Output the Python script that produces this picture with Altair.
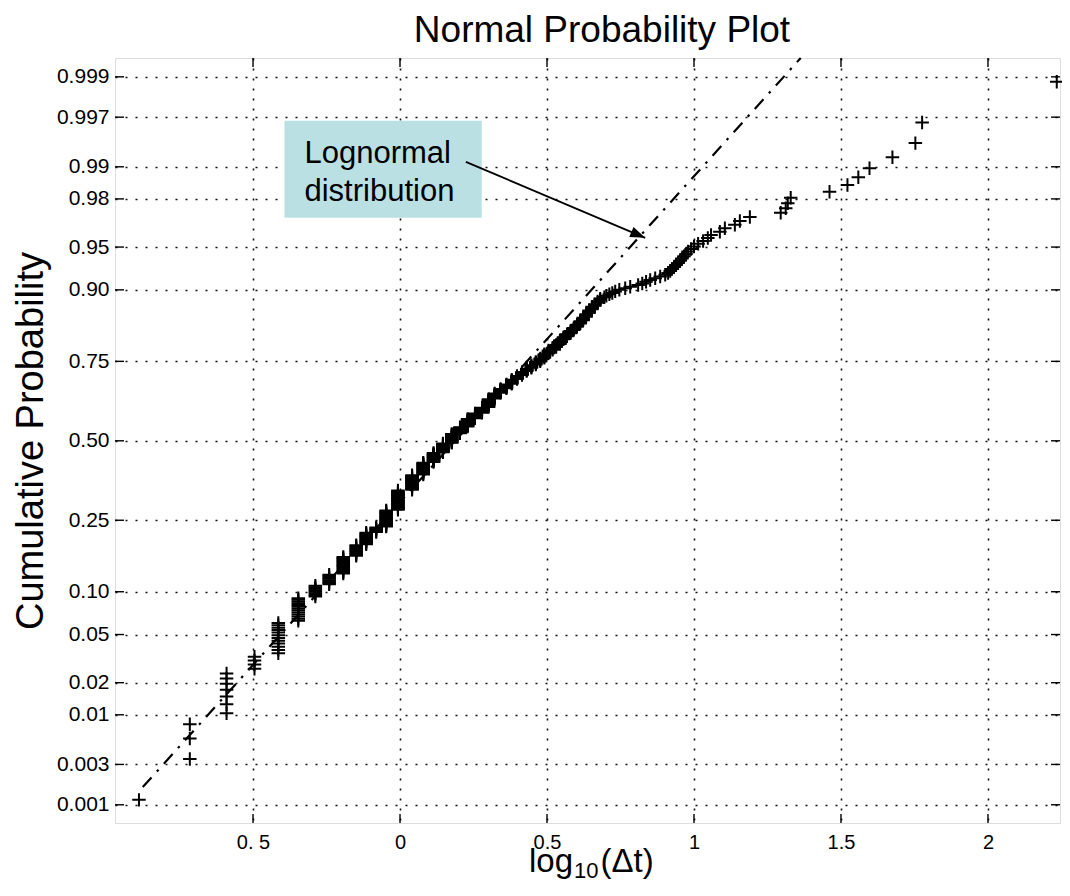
import math
from statistics import NormalDist

import altair as alt
import pandas as pd

ND = NormalDist()

# ---------------- data ----------------
# distinct sorted log10(Δt) values and how many observations share each value
X_VALUES = [-0.888, -0.715, -0.590, -0.495, -0.414, -0.346, -0.288, -0.241, -0.193, -0.149,
            -0.115, -0.081, -0.047, -0.007,
            0.041, 0.079, 0.114, 0.146, 0.176, 0.204, 0.230, 0.255, 0.279, 0.301,
            0.322, 0.342, 0.362, 0.380, 0.398, 0.415, 0.431, 0.447, 0.462, 0.477,
            0.491, 0.505, 0.519, 0.531, 0.544, 0.556, 0.568, 0.580, 0.591, 0.602,
            0.613, 0.623, 0.633, 0.643, 0.653, 0.663, 0.672, 0.681,
            0.695, 0.702, 0.712, 0.722, 0.732, 0.746, 0.766, 0.783, 0.810, 0.824,
            0.837, 0.851, 0.868, 0.885, 0.902, 0.912, 0.919, 0.925, 0.932, 0.939,
            0.946, 0.953, 0.959, 0.966, 0.973, 0.980, 0.990, 1.000, 1.014, 1.031,
            1.047, 1.058, 1.088, 1.105, 1.139, 1.156, 1.190, 1.295, 1.312, 1.319,
            1.329, 1.461, 1.522, 1.559, 1.597, 1.675, 1.753, 1.776, 2.234]
COUNTS = [1, 3, 7, 4, 12, 13, 8, 8, 15, 11,
          13, 6, 20, 26,
          21, 18, 14, 14, 14, 10, 12, 8, 8, 12,
          8, 6, 6, 6, 5, 5, 4, 4, 4, 4,
          5, 4, 3, 3, 5, 3, 3, 3, 3, 3,
          3, 3, 3, 3, 3, 2, 2, 2,
          1, 1, 1, 1, 1, 1, 1, 1, 1, 1,
          1, 1, 1, 1, 1, 1, 1, 1, 1, 1,
          1, 1, 1, 1, 1, 1, 1, 1, 1, 1,
          1, 1, 1, 1, 1, 1, 1, 1, 1, 1,
          1, 1, 1, 1, 1, 1, 1, 1, 1]

# dash-dot reference line (lognormal fit) end points: log10(Δt), cumulative probability
LINE_X = [-0.875, 1.363]
LINE_P = [0.00164, 0.999423]

# axis ticks
P_TICKS = [0.001, 0.003, 0.01, 0.02, 0.05, 0.10, 0.25, 0.50, 0.75, 0.90, 0.95, 0.98, 0.99, 0.997, 0.999]
P_LABELS = ["0.001", "0.003", "0.01", "0.02", "0.05", "0.10", "0.25", "0.50", "0.75", "0.90",
            "0.95", "0.98", "0.99", "0.997", "0.999"]
X_TICKS = [-0.5, 0, 0.5, 1, 1.5, 2]
X_LABELS = ["0. 5", "0", "0.5", "1", "1.5", "2"]

# texts
TITLE = "Normal Probability Plot"
Y_TITLE = "Cumulative Probability"
NOTE_LINES = ["Lognormal", "distribution"]

# ---------------- build tables ----------------
assert len(X_VALUES) == len(COUNTS)
n = sum(COUNTS)
rows = []
rank = 0
for xv, c in zip(X_VALUES, COUNTS):
    for _ in range(c):
        rank += 1
        p = (rank - 0.5) / n
        rows.append({"x": xv, "p": p, "z": ND.inv_cdf(p)})
df = pd.DataFrame(rows)

line_df = pd.DataFrame({"x": LINE_X, "z": [ND.inv_cdf(p) for p in LINE_P]})
Z_TICKS = [ND.inv_cdf(p) for p in P_TICKS]
xt_df = pd.DataFrame({"t": X_TICKS})
yt_df = pd.DataFrame({"z": Z_TICKS})

W, H = 945, 765
XDOM = [-0.9695, 2.245]
YDOM = [-3.245, 3.25]
xs = alt.Scale(domain=XDOM, nice=False, zero=False)
ys = alt.Scale(domain=YDOM, nice=False, zero=False)

FONT = "Liberation Sans"


def label_expr(vals, labs):
    expr = "''"
    for v, l in reversed(list(zip(vals, labs))):
        expr = f"abs(datum.value - ({v:.6f})) < 0.0001 ? '{l}' : ({expr})"
    return expr


grid_kw = dict(grid=True, gridDash=[2, 8], gridColor="#111111", gridWidth=1.6,
               ticks=False, tickSize=0, domain=False, labelFont=FONT, labelColor="black",
               labelOverlap=False, labelFlush=False)

x_axis = alt.Axis(values=X_TICKS, labelExpr=label_expr(X_TICKS, X_LABELS), title=None,
                  labelFontSize=20, labelPadding=9, labelAngle=0, **grid_kw)
y_axis = alt.Axis(values=Z_TICKS, labelExpr=label_expr(Z_TICKS, P_LABELS),
                  title=Y_TITLE, titleFont=FONT, titleFontSize=38,
                  titleFontWeight="normal", titleColor="black", titlePadding=6,
                  labelFontSize=21, labelPadding=6, **grid_kw)


def X(field):
    return alt.X(field, scale=xs, axis=x_axis)


def Y(field):
    return alt.Y(field, scale=ys, axis=y_axis)


points = alt.Chart(df).mark_point(
    shape="M-1,0L1,0M0,-1L0,1", size=182, filled=False, stroke="black",
    strokeWidth=2.0, opacity=1
).encode(x=X("x:Q"), y=Y("z:Q"))

ref_line = alt.Chart(line_df).mark_line(
    color="black", strokeWidth=2.2, strokeDash=[13, 8, 2.5, 8]
).encode(x=X("x:Q"), y=Y("z:Q"))

# annotation box & arrow (positions in data units)
BOX = {"x1": -0.393, "x2": 0.278, "z1": ND.inv_cdf(0.99670), "z2": ND.inv_cdf(0.97083)}
box = alt.Chart(pd.DataFrame([BOX])).mark_rect(color="#bbe0e3").encode(
    x=X("x1:Q"), x2="x2:Q", y=Y("z1:Q"), y2="z2:Q",
)
note_df = pd.DataFrame({"x": [-0.325, -0.325],
                        "z": [ND.inv_cdf(0.99086), ND.inv_cdf(0.97919)],
                        "t": NOTE_LINES})
note = alt.Chart(note_df).mark_text(
    align="left", baseline="alphabetic", font=FONT, fontSize=31, color="black"
).encode(x=X("x:Q"), y=Y("z:Q"), text="t:N")

ARROW = {"x1": 0.224, "z1": ND.inv_cdf(0.99106), "x2": 0.834, "z2": ND.inv_cdf(0.9576)}
arrow_line = alt.Chart(pd.DataFrame([ARROW])).mark_rule(color="black", strokeWidth=1.8).encode(
    x=X("x1:Q"), x2="x2:Q", y=Y("z1:Q"), y2="z2:Q",
)
dxp = (ARROW["x2"] - ARROW["x1"]) * W / (XDOM[1] - XDOM[0])
dyp = -(ARROW["z2"] - ARROW["z1"]) * H / (YDOM[1] - YDOM[0])
ang = math.degrees(math.atan2(dyp, dxp)) % 360
arrow_head = alt.Chart(pd.DataFrame([ARROW])).mark_point(
    shape="M0,0L-1.5,-0.55L-1.5,0.55Z", size=400, filled=True, fill="black",
    strokeWidth=0, opacity=1, angle=ang
).encode(x=X("x2:Q"), y=Y("z2:Q"))

# inward tick marks on all four sides
TL = 9
xt_bottom = alt.Chart(xt_df).mark_rule(color="black", strokeWidth=1.4).encode(
    x=X("t:Q"), y=alt.value(H - TL), y2=alt.value(H))
xt_top = alt.Chart(xt_df).mark_rule(color="black", strokeWidth=1.4).encode(
    x=X("t:Q"), y=alt.value(0), y2=alt.value(TL))
yt_left = alt.Chart(yt_df).mark_rule(color="black", strokeWidth=1.4).encode(
    y=Y("z:Q"), x=alt.value(0), x2=alt.value(TL))
yt_right = alt.Chart(yt_df).mark_rule(color="black", strokeWidth=1.4).encode(
    y=Y("z:Q"), x=alt.value(W - TL), x2=alt.value(W))

# chart title
title = alt.Chart(pd.DataFrame({"t": [TITLE]})).mark_text(
    align="center", baseline="alphabetic", font=FONT, fontSize=37, color="black"
).encode(x=alt.value(487), y=alt.value(-16), text="t:N")

# x-axis title: log10(Δt) with subscript
XT_SIZE, SUB_SIZE = 33, 22
log_x = 414
sub_x = log_x + 1.334 * XT_SIZE + 1
par_x = sub_x + 1.112 * SUB_SIZE + 2
xtitle_main = alt.Chart(pd.DataFrame({"t": ["log"]})).mark_text(
    align="left", baseline="alphabetic", font=FONT, fontSize=XT_SIZE, color="black"
).encode(x=alt.value(log_x), y=alt.value(H + 49), text="t:N")
xtitle_sub = alt.Chart(pd.DataFrame({"t": ["10"]})).mark_text(
    align="left", baseline="alphabetic", font=FONT, fontSize=SUB_SIZE, color="black"
).encode(x=alt.value(sub_x), y=alt.value(H + 55), text="t:N")
xtitle_par = alt.Chart(pd.DataFrame({"t": ["(Δt)"]})).mark_text(
    align="left", baseline="alphabetic", font=FONT, fontSize=XT_SIZE, color="black"
).encode(x=alt.value(par_x), y=alt.value(H + 49), text="t:N")

chart = alt.layer(
    box, ref_line, points, arrow_line, arrow_head, note,
    xt_bottom, xt_top, yt_left, yt_right,
    title, xtitle_main, xtitle_sub, xtitle_par,
).properties(
    width=W, height=H,
    padding={"left": 107, "top": 50, "right": 2, "bottom": 60},
    autosize=alt.AutoSizeParams(type="none"),
).configure_view(
    stroke="black", strokeWidth=1.5
).configure(
    font=FONT, background="white"
)

chart.save("out.html", embed_options={"renderer": "svg", "actions": False})
